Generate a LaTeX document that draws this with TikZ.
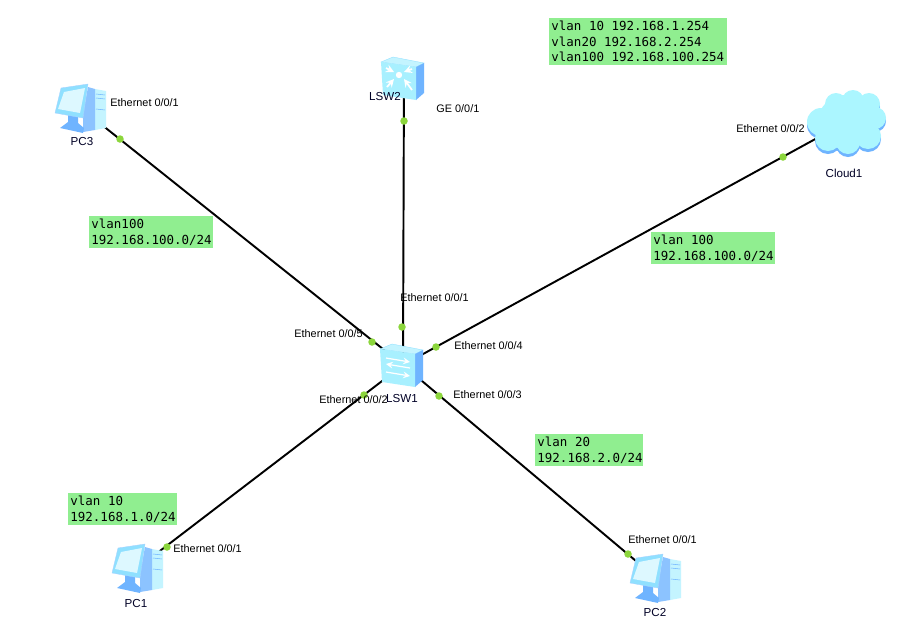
\documentclass[tikz,border=0pt]{standalone}
\usepackage{fontspec}
\setmainfont{Liberation Sans}
\newfontfamily\vlanfont{DejaVu Sans Mono}
\definecolor{vlanbg}{HTML}{90EE90}
\definecolor{portdot}{HTML}{8CD63C}
\definecolor{iconfront}{HTML}{A8F0FF}
\definecolor{icontop}{HTML}{C4F4FF}
\definecolor{iconside}{HTML}{6FB4FF}
\definecolor{iconedge}{HTML}{8FE0FF}
\definecolor{iconpale}{HTML}{DDF8FF}
\definecolor{cloudbg}{HTML}{ABF6FF}
\tikzset{
  linkline/.style={black,line width=1.1pt},
  portdotst/.style={circle,fill=portdot,inner sep=0pt,minimum size=0.15cm},
  portlab/.style={anchor=west,font=\fontsize{6.2}{7.5}\selectfont,inner sep=0pt,yshift=-0.5pt},
  devlab/.style={font=\fontsize{6.6}{8}\selectfont,text=black!85!blue,inner sep=0pt},
  vlanlab/.style={anchor=north west,fill=vlanbg,align=flush left,inner xsep=1.2pt,inner ysep=1.5pt,text width=#1,
    font=\vlanfont\fontsize{7.1}{8.9}\selectfont},
  devanchor/.style={inner sep=0pt,minimum size=0pt},
}
% switch body, #1 = x of front top left, #2 = y of it
\newcommand{\swbody}[2]{%
  \fill[icontop,draw=iconedge,line width=0.2pt] ({#1},{#2}) -- ({#1+12},{#2-5}) -- ({#1+43},{#2+1}) -- ({#1+35},{#2+5}) -- cycle;
  \fill[iconside] ({#1+35},{#2+5}) -- ({#1+43},{#2+1}) -- ({#1+43},{#2+31}) -- ({#1+35},{#2+38}) -- cycle;
  \fill[iconfront] ({#1},{#2}) -- ({#1+35},{#2+5}) -- ({#1+35},{#2+38}) -- ({#1+2},{#2+33}) -- cycle;
}
% monitor and tower, #1 = x of monitor top right, #2 = y of it
\newcommand{\pcbody}[2]{%
  \fill[icontop] ({#1+7},{#2+5}) -- ({#1+18},{#2+7}) -- ({#1+18},{#2+44}) -- ({#1+7},{#2+46}) -- cycle;
  \fill[iconside!80!white] ({#1},{#2+3}) -- ({#1+7},{#2+5}) -- ({#1+7},{#2+46}) -- ({#1-5},{#2+48}) -- ({#1-5},{#2+30}) -- cycle;
  \fill[iconside] ({#1-20},{#2+30}) -- ({#1-10},{#2+32}) -- ({#1-10},{#2+39}) -- ({#1-4},{#2+44}) -- ({#1-5},{#2+49}) -- ({#1-28},{#2+44}) -- ({#1-20},{#2+38}) -- cycle;
  \fill[iconedge,draw=iconside!60!white,line width=0.2pt] ({#1-27},{#2+4}) -- ({#1},{#2}) -- ({#1-5},{#2+34}) -- ({#1-33},{#2+29}) -- cycle;
  \fill[iconpale] ({#1-24},{#2+8}) -- ({#1-3},{#2+4}) -- ({#1-8},{#2+29}) -- ({#1-30},{#2+25}) -- cycle;
  \draw[iconside,line width=0.3pt] ({#1+8},{#2+10}) -- ({#1+17},{#2+11}) ({#1+8},{#2+14}) -- ({#1+17},{#2+15}) ({#1+8},{#2+25}) -- ({#1+17},{#2+26});
}
\begin{document}
\begin{tikzpicture}[x=0.02cm,y=-0.02cm]
\useasboundingbox[fill=white] (0,0) rectangle (910,643);

% --- device anchors ---------------------------------------------------
\node[devanchor] (LSW1) at (403,365) {};
\node[devanchor] (LSW2) at (404,73) {};
\node[devanchor] (PC1) at (135,570) {};
\node[devanchor] (PC2) at (655,577) {};
\node[devanchor] (PC3) at (87,113) {};
\node[devanchor] (Cloud1) at (850,120) {};

% --- links ------------------------------------------------------------
\foreach \dev in {LSW2,PC1,PC2,PC3,Cloud1}{
  \draw[linkline] (LSW1) -- (\dev);
}

% --- switches ----------------------------------------------------------
\swbody{380}{349}
\draw[white,line width=0.7pt,-stealth] (386,358) -- (410,362);
\draw[white,line width=0.7pt,stealth-] (386,364) -- (410,368);
\draw[white,line width=0.7pt,-stealth] (386,372) -- (410,376);
\swbody{381}{62}
\fill[white] (399,75) circle (3.2);
\foreach \ax/\ay/\bx/\by in {386/68/394/72,412/69/404/72,387/87/394/79,412/90/404/79}{
  \draw[white,line width=1pt,-stealth] (\ax,\ay) -- (\bx,\by);
}

% --- hosts -------------------------------------------------------------
\pcbody{88}{84}
\pcbody{145}{544}
\pcbody{663}{554}

% --- cloud -------------------------------------------------------------
\foreach \cx/\cy/\r in {845/122/27,821/122/14,828/138/13,848/142/12,868/136/13,875/118/11,869/104/11,853/101/11,836/104/11}{
  \fill[iconside] (\cx,{\cy+3}) circle (\r);
}
\foreach \cx/\cy/\r in {845/122/27,821/122/14,828/138/13,848/142/12,868/136/13,875/118/11,869/104/11,853/101/11,836/104/11}{
  \fill[cloudbg] (\cx,\cy) circle (\r);
}

% --- port dots ---------------------------------------------------------
\foreach \x/\y/\nm in {120/139/dotA,372/342/dotB,402/327/dotC,404/121/dotD,436/347/dotE,783/157/dotF,364/395/dotG,167/547/dotH,439/396/dotI,628/554/dotJ}{
  \node[portdotst] (\nm) at (\x,\y) {};
}

% --- port labels -------------------------------------------------------
\foreach \x/\y/\lab/\nm in {110/102/{Ethernet 0/0/1}/labA,294/333/{Ethernet 0/0/5}/labB,400/297/{Ethernet 0/0/1}/labC,
  436/108/{GE 0/0/1}/labD,454/345/{Ethernet 0/0/4}/labE,736/128/{Ethernet 0/0/2}/labF,319/399/{Ethernet 0/0/2}/labG,
  173/548/{Ethernet 0/0/1}/labH,453/394/{Ethernet 0/0/3}/labI,628/539/{Ethernet 0/0/1}/labJ}{
  \node[portlab] (\nm) at (\x,\y) {\lab};
}

% --- device labels -----------------------------------------------------
\node[devlab] (labLSW1) at (402,399) {LSW1};
\node[devlab] (labLSW2) at (385,97) {LSW2};
\node[devlab] (labPC1) at (136,603) {PC1};
\node[devlab] (labPC2) at (655,612) {PC2};
\node[devlab] (labPC3) at (82,142) {PC3};
\node[devlab] (labCloud1) at (844,173) {Cloud1};

% --- vlan notes --------------------------------------------------------
\node[vlanlab=3.46cm] (noteGw) at (549,18) {vlan 10 192.168.1.254\\vlan20 192.168.2.254\\vlan100 192.168.100.254};
\node[vlanlab=2.38cm] (notePCiii) at (89,216) {vlan100\\192.168.100.0/24};
\node[vlanlab=2.38cm] (noteCloud) at (651,232) {vlan 100\\192.168.100.0/24};
\node[vlanlab=2.06cm] (notePCii) at (535,434) {vlan 20\\192.168.2.0/24};
\node[vlanlab=2.08cm] (notePCi) at (68,493) {vlan 10\\192.168.1.0/24};

\end{tikzpicture}
\end{document}
